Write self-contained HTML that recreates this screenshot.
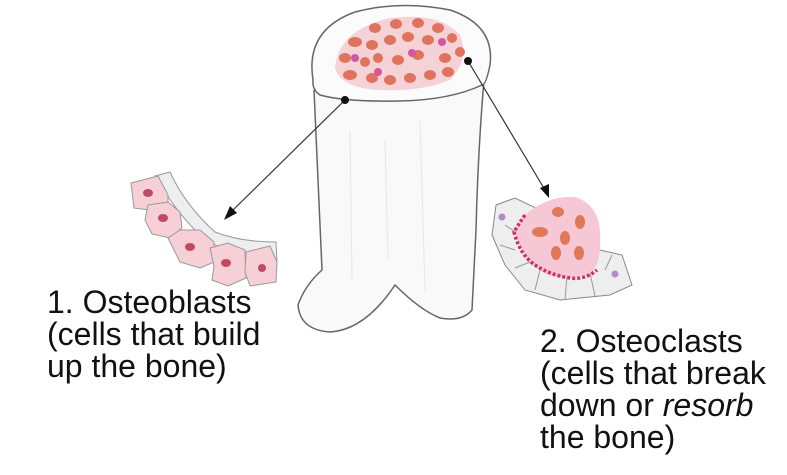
<!DOCTYPE html>
<html><head><meta charset="utf-8"><style>
html,body{margin:0;padding:0;background:#fff;}
svg{display:block}
text{font-family:"Liberation Sans",sans-serif;font-size:32px;fill:#111}
</style></head><body>
<svg width="787" height="475" viewBox="0 0 787 475" xmlns="http://www.w3.org/2000/svg">
<rect width="787" height="475" fill="#fff"/>
<!-- bone shaft -->
<path d="M314,90 Q318,180 322,270 Q305,285 298,305 Q300,330 330,332 Q365,330 395,285 Q420,310 440,318 Q462,322 472,310 L476,230 Q478,150 484,80" fill="#f9f9f9" stroke="#666" stroke-width="1.5"/>
<path d="M350,130 L352,280 M420,120 L425,290 M385,140 L388,260" stroke="#e6e6e6" stroke-width="1"/>
<!-- top ellipse -->
<path d="M313,80 Q305,30 355,12 Q400,0 450,10 Q495,25 490,65 Q486,85 482,85 Q450,100 400,101 Q345,102 320,95 Q312,90 313,80 Z" fill="#fbfbfb" stroke="#666" stroke-width="1.5"/>
<path d="M335,68 Q338,30 390,18 Q440,12 460,35 Q470,60 450,80 Q420,92 380,90 Q340,88 335,68 Z" fill="#f5d2d6"/>
<g fill="#e0735e">
<ellipse cx="375" cy="28" rx="6" ry="5"/><ellipse cx="396" cy="24" rx="6" ry="5"/><ellipse cx="418" cy="23" rx="6" ry="5"/><ellipse cx="438" cy="28" rx="6" ry="5"/>
<ellipse cx="355" cy="42" rx="7" ry="5"/><ellipse cx="372" cy="45" rx="6" ry="5"/><ellipse cx="390" cy="40" rx="6" ry="5"/><ellipse cx="408" cy="37" rx="6" ry="5"/><ellipse cx="428" cy="40" rx="6" ry="5"/><ellipse cx="452" cy="38" rx="5" ry="5"/>
<ellipse cx="345" cy="58" rx="6" ry="5"/><ellipse cx="365" cy="62" rx="5" ry="5"/><ellipse cx="378" cy="58" rx="5" ry="5"/><ellipse cx="398" cy="60" rx="6" ry="5"/><ellipse cx="418" cy="55" rx="6" ry="5"/><ellipse cx="445" cy="58" rx="6" ry="5"/><ellipse cx="460" cy="52" rx="5" ry="5"/>
<ellipse cx="350" cy="75" rx="7" ry="5"/><ellipse cx="372" cy="78" rx="6" ry="5"/><ellipse cx="390" cy="80" rx="6" ry="5"/><ellipse cx="410" cy="78" rx="6" ry="5"/><ellipse cx="430" cy="75" rx="6" ry="5"/><ellipse cx="448" cy="72" rx="6" ry="5"/>
</g>
<g fill="#d555a0"><circle cx="355" cy="58" r="4"/><circle cx="442" cy="42" r="4"/><circle cx="412" cy="53" r="4"/><circle cx="378" cy="72" r="4"/></g>
<!-- arrows -->
<line x1="345" y1="100" x2="230" y2="213" stroke="#333" stroke-width="1.2"/>
<path d="M224,220 L230,206 L237,213 Z" fill="#111"/>
<circle cx="345" cy="100" r="4" fill="#111"/>
<line x1="468" y1="61" x2="545" y2="190" stroke="#333" stroke-width="1.2"/>
<path d="M549,198 L540,188 L549,184 Z" fill="#111"/>
<circle cx="468" cy="61" r="4" fill="#111"/>
<!-- osteoblasts -->
<path d="M155,176 L170,172 Q185,205 215,232 Q240,242 276,242 L277,262 L255,262 Q220,252 195,230 Q175,210 155,176 Z" fill="#eeeeee" stroke="#999" stroke-width="1"/>
<g fill="#f6d0d6" stroke="#999" stroke-width="1">
<path d="M131,183 L158,176 L168,195 L168,205 L150,210 L134,208 Z"/>
<path d="M148,205 L168,202 L180,212 L182,228 L170,238 L152,234 L145,220 Z"/>
<path d="M168,238 L180,230 L200,230 L214,242 L214,262 L200,268 L180,262 Z"/>
<path d="M210,248 L228,243 L245,250 L246,278 L228,286 L212,280 L214,266 Z"/>
<path d="M246,252 L270,246 L277,262 L276,282 L250,286 L245,272 Z"/>
</g>
<g fill="#c04a62"><ellipse cx="148" cy="193" rx="5" ry="4"/><ellipse cx="163" cy="218" rx="5" ry="4"/><ellipse cx="190" cy="247" rx="5" ry="4"/><ellipse cx="226" cy="263" rx="5" ry="4"/><ellipse cx="262" cy="268" rx="4" ry="4"/></g>
<!-- osteoclast -->
<path d="M496,205 L515,198 L540,210 L600,250 L622,255 L632,285 L610,295 L560,300 L525,290 L505,265 L492,235 Z" fill="#eeeeee" stroke="#888" stroke-width="1"/>
<path d="M505,225 L520,235 M500,245 L515,250 M515,268 L530,262 M535,290 L540,270 M565,300 L567,275 M595,296 L590,273 M612,255 L605,270" stroke="#999" stroke-width="1"/>
<path d="M525,215 Q548,195 575,197 Q600,205 600,235 Q602,260 592,272 Q570,282 548,275 Q525,265 515,232 Z" fill="#f6c8d6"/>
<path d="M525,215 Q518,225 514,232 Q520,255 535,265 Q550,275 570,278 Q585,280 597,270" fill="none" stroke="#d0306a" stroke-width="3.5" stroke-dasharray="3,2"/>
<g fill="#e07858"><ellipse cx="558" cy="212" rx="6" ry="5"/><ellipse cx="580" cy="222" rx="5" ry="7"/><ellipse cx="540" cy="232" rx="8" ry="5"/><ellipse cx="565" cy="238" rx="5" ry="7"/><ellipse cx="556" cy="253" rx="5" ry="7"/><ellipse cx="579" cy="253" rx="5" ry="7"/></g>
<circle cx="502" cy="217" r="3.5" fill="#b48ac8"/>
<circle cx="615" cy="274" r="3.5" fill="#b48ac8"/>
<!-- labels -->
<text x="47" y="313">1. Osteoblasts</text>
<text x="47" y="345">(cells that build</text>
<text x="47" y="377">up the bone)</text>
<text x="540" y="352">2. Osteoclasts</text>
<text x="540" y="384">(cells that break</text>
<text x="540" y="416">down or <tspan font-style="italic">resorb</tspan></text>
<text x="540" y="448">the bone)</text>
</svg>
</body></html>
